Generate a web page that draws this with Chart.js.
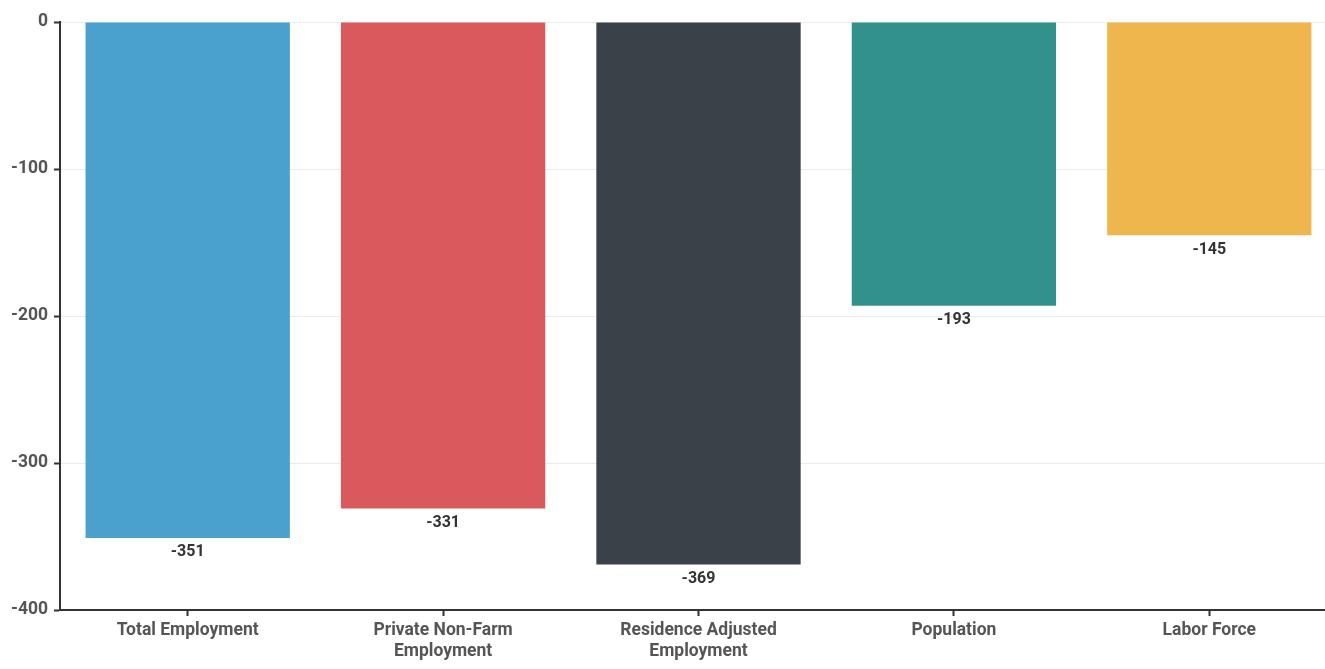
<!DOCTYPE html>
<html>
<head>
<meta charset="utf-8">
<script src="https://cdn.jsdelivr.net/npm/chart.js@4.4.1/dist/chart.umd.min.js"></script>
<style>
  html, body { margin: 0; padding: 0; background: #ffffff; overflow: hidden; }
  #wrap { width: 1325px; height: 669px; position: relative; overflow: hidden; }
</style>
</head>
<body>
<div id="wrap"><canvas id="chart" width="1337" height="669"></canvas></div>
<script>
// Change in employment-related measures
const categories = [
  'Total Employment',
  ['Private Non-Farm', 'Employment'],
  ['Residence Adjusted', 'Employment'],
  'Population',
  'Labor Force'
];
const changes = [-351, -331, -369, -193, -145];
const barColors = ['#4BA1CD', '#D9595D', '#3B4149', '#32918A', '#F0B64E'];
const yTicks = [0, -100, -200, -300, -400];

// Writes each bar's value just beneath its end
const valueLabels = {
  id: 'valueLabels',
  afterDatasetsDraw(chart) {
    const ctx = chart.ctx;
    const meta = chart.getDatasetMeta(0);
    ctx.save();
    ctx.font = 'bold 16px Roboto';
    ctx.fillStyle = '#333333';
    ctx.textAlign = 'center';
    ctx.textBaseline = 'middle';
    meta.data.forEach((bar, i) => {
      ctx.fillText(String(changes[i]), bar.x, bar.y + 14.5);
    });
    ctx.restore();
  }
};

new Chart(document.getElementById('chart'), {
  type: 'bar',
  data: {
    labels: categories,
    datasets: [{
      data: changes,
      backgroundColor: barColors,
      borderWidth: 0,
      categoryPercentage: 0.8,
      barPercentage: 1.0
    }]
  },
  options: {
    responsive: false,
    animation: false,
    layout: { padding: { top: 22, right: 0, left: 0, bottom: 0 } },
    plugins: {
      legend: { display: false },
      tooltip: { enabled: false }
    },
    scales: {
      x: {
        grid: {
          offset: false,
          drawOnChartArea: false,
          drawTicks: true,
          tickLength: 6,
          tickColor: '#333333',
          tickWidth: 2
        },
        border: { color: '#333333', width: 2 },
        ticks: {
          color: '#555555',
          font: { family: 'Roboto', size: 17.5, weight: 'bold', lineHeight: 1.15 },
          maxRotation: 0,
          autoSkip: false,
          padding: 5
        },
        afterFit(scale) { scale.height = 59; }
      },
      y: {
        min: -400,
        max: 0,
        afterBuildTicks(scale) {
          scale.ticks = yTicks.map(v => ({ value: v }));
        },
        grid: {
          color: '#ebebeb',
          tickColor: '#333333',
          tickLength: 6,
          tickWidth: 2
        },
        border: { color: '#333333', width: 2 },
        ticks: {
          color: '#555555',
          font: { family: 'Roboto', size: 17.5, weight: 'bold' },
          padding: 6
        },
        afterFit(scale) { scale.width = 60; }
      }
    }
  },
  plugins: [valueLabels]
});
</script>
</body>
</html>
